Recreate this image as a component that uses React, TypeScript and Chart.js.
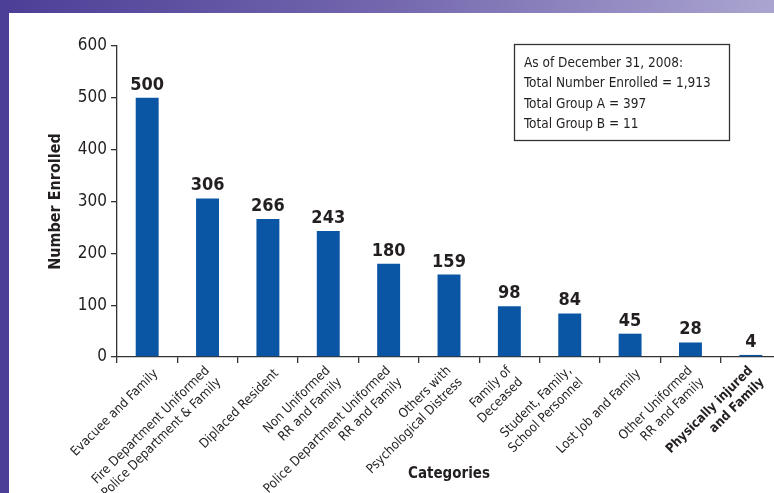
import React, { useEffect, useRef } from "react";
import { Chart, registerables } from "chart.js";

Chart.register(...registerables);

const categories: (string | string[])[] = [
  "Evacuee and Family",
  ["Fire Department Uniformed", "Police Department & Family"],
  "Diplaced Resident",
  ["Non Uniformed", "RR and Family"],
  ["Police Department Uniformed", "RR and Family"],
  ["Others with", "Psychological Distress"],
  ["Family of", "Deceased"],
  ["Student, Family,", "School Personnel"],
  "Lost Job and Family",
  ["Other Uniformed", "RR and Family"],
  ["Physically injured", "and Family"],
];
const enrolled = [500, 306, 266, 243, 180, 159, 98, 84, 45, 28, 4];
const boldCategoryIndex = [10];
const yTicks = [0, 100, 200, 300, 400, 500, 600];
const noteLines = [
  "As of December 31, 2008:",
  "Total Number Enrolled = 1,913",
  "Total Group A = 397",
  "Total Group B = 11",
];
const yTitle = "Number Enrolled";
const xTitle = "Categories";

const NARROW = "'DejaVu Sans Condensed', 'Liberation Sans Narrow', sans-serif";
const BAR = "#0a56a4";
const TEXT = "#231f20";

const isSingle = (i: number) => !Array.isArray(categories[i]);

const framePlugin = {
  id: "frame",
  beforeDraw(chart: any) {
    const { ctx } = chart;
    ctx.save();
    ctx.fillStyle = "#ffffff";
    ctx.fillRect(0, 0, chart.width, chart.height);
    const g = ctx.createLinearGradient(0, 0, 774, 0);
    g.addColorStop(0, "#4c3e96");
    g.addColorStop(0.5, "#7467ae");
    g.addColorStop(1, "#aaa5d0");
    ctx.fillStyle = g;
    ctx.fillRect(0, 0, chart.width, 13);
    ctx.fillStyle = "#4b3f98";
    ctx.fillRect(0, 0, 9, chart.height);
    ctx.restore();
  },
};

const labelsPlugin = {
  id: "barLabels",
  afterDatasetsDraw(chart: any) {
    const { ctx } = chart;
    const meta = chart.getDatasetMeta(0);
    ctx.save();
    ctx.font = `bold 18px ${NARROW}`;
    ctx.fillStyle = TEXT;
    ctx.textAlign = "center";
    ctx.textBaseline = "alphabetic";
    meta.data.forEach((bar: any, i: number) => {
      ctx.fillText(String(enrolled[i]), bar.x, bar.y - 8);
    });
    ctx.restore();
  },
};

const notePlugin = {
  id: "note",
  afterDraw(chart: any) {
    const { ctx } = chart;
    ctx.save();
    ctx.strokeStyle = "#333333";
    ctx.lineWidth = 1.3;
    ctx.strokeRect(514.5, 44.5, 215, 96);
    ctx.font = `13.5px ${NARROW}`;
    ctx.fillStyle = TEXT;
    ctx.textAlign = "left";
    ctx.textBaseline = "middle";
    noteLines.forEach((t, i) => {
      ctx.fillText(t, 524, 63 + i * 20.6);
    });
    ctx.restore();
  },
};

export default function App() {
  const ref = useRef<HTMLCanvasElement>(null);
  useEffect(() => {
    const chart = new Chart(ref.current!, {
      type: "bar",
      data: {
        labels: categories,
        datasets: [
          {
            data: enrolled,
            backgroundColor: BAR,
            barPercentage: 0.38,
            categoryPercentage: 1,
          },
        ],
      },
      options: {
        animation: false,
        responsive: false,
        devicePixelRatio: 1,
        layout: { padding: { top: 46, left: 0, right: 0, bottom: 0 } },
        plugins: { legend: { display: false }, tooltip: { enabled: false } },
        scales: {
          x: {
            offset: true,
            afterFit: (s: any) => {
              s.height = 136;
            },
            border: { display: true, color: "#333", width: 1.3 },
            grid: {
              display: true,
              offset: true,
              drawOnChartArea: false,
              drawTicks: true,
              tickLength: 6,
              color: "#333",
              lineWidth: 1.3,
            },
            ticks: {
              autoSkip: false,
              minRotation: 45,
              maxRotation: 45,
              padding: 0,
              color: TEXT,
              showLabelBackdrop: (c: any) => isSingle(c.index),
              backdropColor: "rgba(0,0,0,0)",
              font: (c: any) => ({
                family: NARROW,
                size: 13,
                weight: boldCategoryIndex.includes(c.index) ? "bold" : "normal",
                lineHeight: isSingle(c.index) ? 1.9 : 1.25,
              }),
            },
            title: {
              display: true,
              text: xTitle,
              color: TEXT,
              font: { family: NARROW, size: 15, weight: "bold" },
              padding: { top: 0, bottom: 10 },
            },
          },
          y: {
            min: 0,
            max: 600,
            afterFit: (s: any) => {
              s.width = 117;
            },
            afterBuildTicks: (s: any) => {
              s.ticks = yTicks.map((v) => ({ value: v }));
            },
            border: { display: true, color: "#333", width: 1.3 },
            grid: {
              display: true,
              drawOnChartArea: false,
              drawTicks: true,
              tickLength: 6,
              color: "#333",
              lineWidth: 1.3,
            },
            ticks: {
              padding: 4,
              color: TEXT,
              font: { family: NARROW, size: 17 },
            },
            title: {
              display: true,
              text: yTitle,
              color: TEXT,
              font: { family: NARROW, size: 16, weight: "bold" },
              padding: { top: 46, bottom: 0 },
            },
          },
        },
      },
      plugins: [framePlugin, labelsPlugin, notePlugin],
    });
    return () => chart.destroy();
  }, []);
  return (
    <div
      style={{
        position: "fixed",
        left: 0,
        top: 0,
        width: 774,
        height: 493,
        overflow: "hidden",
        background: "#fff",
      }}
    >
      <canvas ref={ref} width={781} height={493} style={{ display: "block", width: 781, height: 493 }} />
    </div>
  );
}
